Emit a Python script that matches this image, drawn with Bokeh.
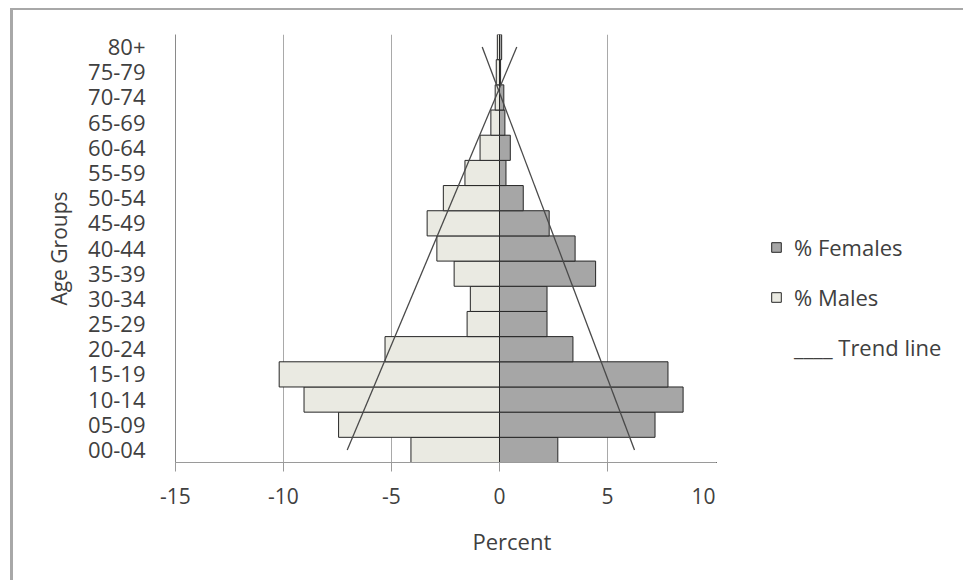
from bokeh.plotting import figure
from bokeh.layouts import row
from bokeh.models import (Legend, LegendItem, FixedTicker, FactorRange, Range1d,
                          ColumnDataSource, Title)
from bokeh.embed import file_html
from bokeh.resources import INLINE

# Age groups, youngest first (bottom of the pyramid)
age_groups = ["00-04", "05-09", "10-14", "15-19", "20-24", "25-29", "30-34",
              "35-39", "40-44", "45-49", "50-54", "55-59", "60-64", "65-69",
              "70-74", "75-79", "80+"]
# Percent of population (males plotted as negative values)
males = [-4.1, -7.45, -9.05, -10.2, -5.3, -1.5, -1.35, -2.1, -2.9, -3.35,
         -2.6, -1.6, -0.9, -0.4, -0.2, -0.15, -0.1]
females = [2.7, 7.2, 8.5, 7.8, 3.4, 2.2, 2.2, 4.45, 3.5, 2.3,
           1.1, 0.3, 0.5, 0.25, 0.2, 0.05, 0.1]
# Linear trend lines: values at the first and last age group
trend_groups = ["00-04", "80+"]
trend_males = [-7.05, 0.8]
trend_females = [6.25, -0.8]
x_ticks = [-15, -10, -5, 0, 5, 10]

FONT = "Open Sans"
TEXT = "#404040"
FEMALE_FILL, MALE_FILL, EDGE = "#a6a6a6", "#eaeae2", "#262626"
# page offset of the layout (left/top margin plus the gray edge line)
OFF_X, OFF_Y = 13, 10
FRAME_L, FRAME_T, FRAME_R, FRAME_B = 175, 34, 715, 462
H = 580 - OFF_Y
W_MAIN = FRAME_R - OFF_X
W_SIDE = 963 - OFF_X - W_MAIN

src = ColumnDataSource(dict(age=age_groups, m=males, f=females,
                            zero=[0] * len(age_groups)))

p = figure(width=W_MAIN, height=H,
           y_range=FactorRange(factors=age_groups),
           x_range=Range1d(-15, 10),
           output_backend="svg", toolbar_location=None,
           min_border_left=FRAME_L - OFF_X, min_border_right=0,
           min_border_top=FRAME_T - OFF_Y,
           min_border_bottom=H - (FRAME_B - OFF_Y))
p.outline_line_color = None
p.background_fill_color = "white"
p.border_fill_color = "white"

p.hbar(y="age", left="zero", right="f", height=1.0, source=src,
       fill_color=FEMALE_FILL, line_color=EDGE, line_width=1)
p.hbar(y="age", left="m", right="zero", height=1.0, source=src,
       fill_color=MALE_FILL, line_color=EDGE, line_width=1)

p.line(x=trend_males, y=trend_groups, line_color="#4a4a4a", line_width=1.3)
p.line(x=trend_females, y=trend_groups, line_color="#4a4a4a", line_width=1.3)

# grid and axes
p.ygrid.grid_line_color = None
p.xgrid.ticker = FixedTicker(ticks=x_ticks)
p.xgrid.grid_line_color = "#a9a9a9"
p.xgrid.grid_line_width = 1

xa = p.xaxis[0]
xa.ticker = FixedTicker(ticks=x_ticks)
xa.major_label_overrides = {t: str(t) for t in x_ticks}
xa.axis_line_color = "#9a9a9a"
xa.major_tick_line_color = "#9a9a9a"
xa.major_tick_out = 9
xa.major_tick_in = 0
xa.minor_tick_line_color = None
xa.major_label_standoff = 16
xa.major_label_text_font = FONT
xa.major_label_text_font_size = "21px"
xa.major_label_text_color = TEXT

# x axis caption sits a little right of the frame centre
p.add_layout(Title(text="Percent", align="left", offset=297, standoff=34,
                   vertical_align="bottom",
                   text_font=FONT, text_font_size="22px",
                   text_font_style="normal", text_color=TEXT), "below")

ya = p.yaxis[0]
ya.axis_line_color = "#8a8a8a"
ya.major_tick_line_color = None
ya.minor_tick_line_color = None
ya.major_label_standoff = 24
ya.major_label_text_font = FONT
ya.major_label_text_font_size = "22px"
ya.major_label_text_color = TEXT
ya.axis_label = "Age Groups"
ya.axis_label_text_font = FONT
ya.axis_label_text_font_size = "21px"
ya.axis_label_text_font_style = "normal"
ya.axis_label_text_color = TEXT
ya.axis_label_standoff = 12

# side panel holding the key
q = figure(width=W_SIDE, height=H, x_range=Range1d(0, W_SIDE),
           y_range=Range1d(0, H), x_axis_location=None, y_axis_location=None,
           output_backend="svg", toolbar_location=None, min_border=0)
q.outline_line_color = None
q.grid.visible = False
q.background_fill_color = "white"
q.border_fill_color = "white"

# key samples: one row each, placed outside the visible range
kf = q.hbar(y=[-100], left=[0], right=[1], height=1, fill_color=FEMALE_FILL,
            line_color=EDGE, line_width=1)
km = q.hbar(y=[-100], left=[0], right=[1], height=1, fill_color=MALE_FILL,
            line_color=EDGE, line_width=1)
kt = q.line(x=[-100, -99], y=[-100, -100], line_alpha=0)

legend = Legend(items=[LegendItem(label="% Females", renderers=[kf]),
                       LegendItem(label="% Males", renderers=[km]),
                       LegendItem(label="____ Trend line", renderers=[kt])],
                location=(770 - FRAME_R, FRAME_B - 362),
                padding=0, margin=0, spacing=20,
                glyph_width=12, glyph_height=12, label_height=26,
                label_standoff=12,
                label_text_font=FONT, label_text_font_size="22px",
                label_text_color=TEXT,
                border_line_color=None, background_fill_alpha=0)
q.add_layout(legend)

layout = row(p, q, margin=(8, 0, 0, 10),
             styles={"border-left": "3px solid #a8a8a8",
                     "border-top": "2px solid #a8a8a8"})

open("out.html", "w").write(file_html(layout, INLINE))
